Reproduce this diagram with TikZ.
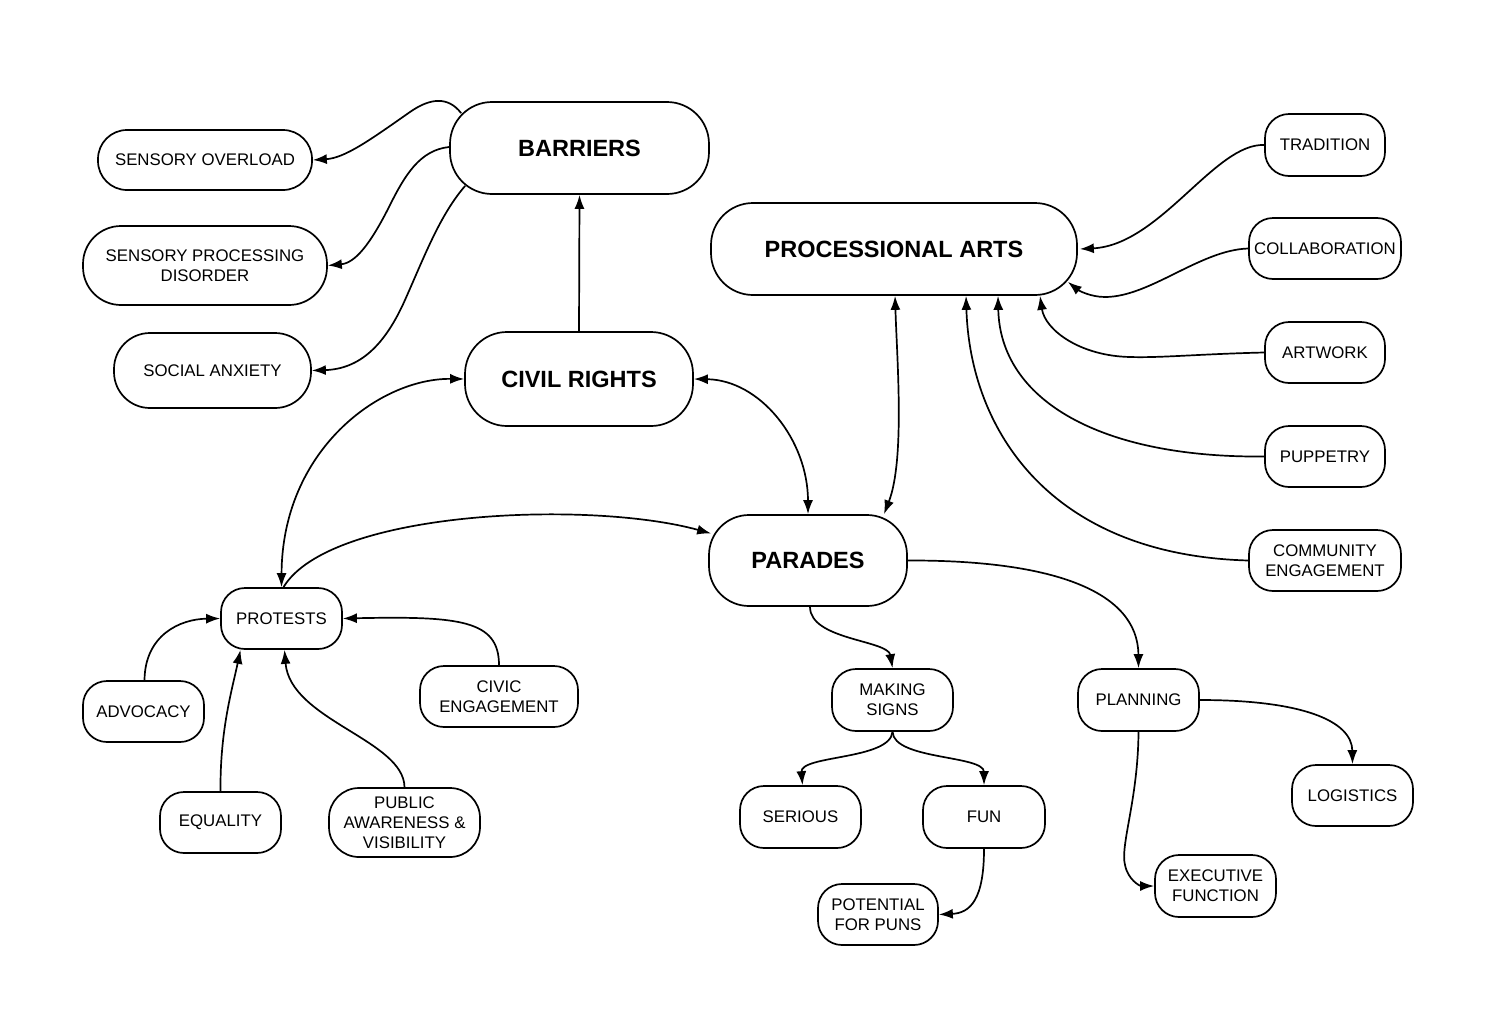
\documentclass[tikz,border=0pt]{standalone}
\usepackage{fontspec}
\setmainfont{Liberation Sans}
\usetikzlibrary{arrows.meta}
\begin{document}
\begin{tikzpicture}[x=1pt,y=-1pt,
  box/.style={draw, line width=1.7pt, align=center, inner sep=0pt, rounded corners=24pt, font=\fontsize{16.8}{20}\selectfont},
  big/.style={box, rounded corners=42pt, font=\fontsize{23.5}{27}\selectfont\bfseries},
  sz/.style 2 args={minimum width=#1pt, minimum height=#2pt},
  arr/.style={line width=1.7pt, -{Latex[length=14pt,width=10pt]}},
  biarr/.style={line width=1.7pt, {Latex[length=14pt,width=10pt]}-{Latex[length=14pt,width=10pt]}}
]
\useasboundingbox[fill=white] (0,0) rectangle (1498,1012);

% main nodes
\node[big, sz={259}{92}] (bar) at (579.5,148) {BARRIERS};
\node[big, sz={228}{94}] (cr) at (579,379) {CIVIL RIGHTS};
\node[big, sz={366}{92}] (pa) at (894,249) {PROCESSIONAL ARTS};
\node[big, sz={198}{91}, rounded corners=40pt] (par) at (808,560.5) {PARADES};

% barriers children
\node[box, sz={214}{60}, rounded corners=29pt] (so) at (205,160) {SENSORY OVERLOAD};
\node[box, sz={244}{79}, rounded corners=38pt] (spd) at (205,265.5) {SENSORY PROCESSING\\DISORDER};
\node[box, sz={197}{75}, rounded corners=36pt] (sa) at (212.5,370.5) {SOCIAL ANXIETY};

% processional arts children
\node[box, sz={120}{62}] (trad) at (1325,145) {TRADITION};
\node[box, sz={152}{61}] (col) at (1325,248.5) {COLLABORATION};
\node[box, sz={120}{61}] (art) at (1325,352.5) {ARTWORK};
\node[box, sz={120}{61}] (pup) at (1325,456.5) {PUPPETRY};
\node[box, sz={152}{61}] (ce) at (1325,560.5) {COMMUNITY\\ENGAGEMENT};

% protests cluster
\node[box, sz={121}{61}] (pro) at (281.5,618.5) {PROTESTS};
\node[box, sz={121}{61}] (adv) at (143.5,711.5) {ADVOCACY};
\node[box, sz={121}{61}] (eq) at (220.5,822.5) {EQUALITY};
\node[box, sz={151}{69}, rounded corners=30pt] (pub) at (404.5,822.5) {PUBLIC\\AWARENESS \&\\VISIBILITY};
\node[box, sz={158}{61}] (civ) at (499,696.5) {CIVIC\\ENGAGEMENT};

% parades cluster
\node[box, sz={121}{62}] (ms) at (892.5,700) {MAKING\\SIGNS};
\node[box, sz={121}{62}] (plan) at (1138.5,700) {PLANNING};
\node[box, sz={121}{62}] (ser) at (800.5,817) {SERIOUS};
\node[box, sz={122}{62}] (fun) at (984,817) {FUN};
\node[box, sz={120}{61}] (pot) at (878,914.5) {POTENTIAL\\FOR PUNS};
\node[box, sz={121}{61}] (log) at (1352.5,795.5) {LOGISTICS};
\node[box, sz={121}{62}] (exf) at (1215.5,886) {EXECUTIVE\\FUNCTION};

% barriers connectors
\draw[arr] ([shift={(12,12)}]bar.north west) .. controls (448,96) and (430,98) .. (410,112) .. controls (370,140) and (345,158) .. (so.east);
\draw[arr] ([yshift=1]bar.west) .. controls (420,150) and (405,175) .. (390,205) .. controls (370,245) and (355,263) .. (spd.east);
\draw[arr] ([shift={(16,-9)}]bar.south west) .. controls (440,215) and (425,255) .. (405,300) .. controls (385,345) and (360,369) .. (sa.east);
\draw[arr] (cr.north) -- (bar.south);

% civil rights links
\draw[biarr] (cr.west) .. controls (380,378) and (282,450) .. (pro.north);
\draw[biarr] (cr.east) .. controls (760,380) and (808,440) .. (par.north);
\draw[arr] ([xshift=2]pro.north) .. controls (330,510) and (590,500) .. ([shift={(3,-27)}]par.west);

% processional arts links
\draw[biarr] ([xshift=1]pa.south) .. controls (897,360) and (905,460) .. ([xshift=76]par.north);
\draw[arr] (trad.west) .. controls (1215,143) and (1160,245) .. ([xshift=2]pa.east);
\draw[arr] (col.west) .. controls (1200,250) and (1150,297) .. (1105,297) .. controls (1090,297) and (1078,290) .. ([shift={(-10,-14)}]pa.south east);
\draw[arr] (art.west) .. controls (1200,354) and (1160,358) .. (1130,357) .. controls (1080,356) and (1045,330) .. ([xshift=146]pa.south);
\draw[arr] (pup.west) .. controls (1100,458) and (1000,400) .. ([xshift=104]pa.south);
\draw[arr] (ce.west) .. controls (1050,555) and (970,430) .. ([xshift=72]pa.south);

% parades children
\draw[arr] ([xshift=2]par.south) .. controls (810,640) and (888,640) .. (ms.north);
\draw[arr] (par.east) .. controls (1050,560) and (1138,590) .. (plan.north);
\draw[arr] (ms.south) .. controls (890,760) and (800,755) .. ([xshift=2]ser.north);
\draw[arr] (ms.south) .. controls (894,760) and (984,755) .. (fun.north);
\draw[arr] (fun.south) .. controls (984,900) and (970,913) .. (pot.east);
\draw[arr] (plan.east) .. controls (1300,700) and (1352,720) .. (log.north);
\draw[arr] (plan.south) .. controls (1138,800) and (1120,845) .. (1125,865) .. controls (1128,880) and (1140,886) .. (exf.west);

% protests children
\draw[arr] ([xshift=1]adv.north) .. controls (145,635) and (180,619) .. (pro.west);
\draw[arr] (eq.north) .. controls (220,730) and (232,690) .. ([xshift=-41]pro.south);
\draw[arr] (pub.north) .. controls (404,740) and (290,720) .. ([xshift=3]pro.south);
\draw[arr] (civ.north) .. controls (499,620) and (460,616) .. (pro.east);
\end{tikzpicture}
\end{document}
